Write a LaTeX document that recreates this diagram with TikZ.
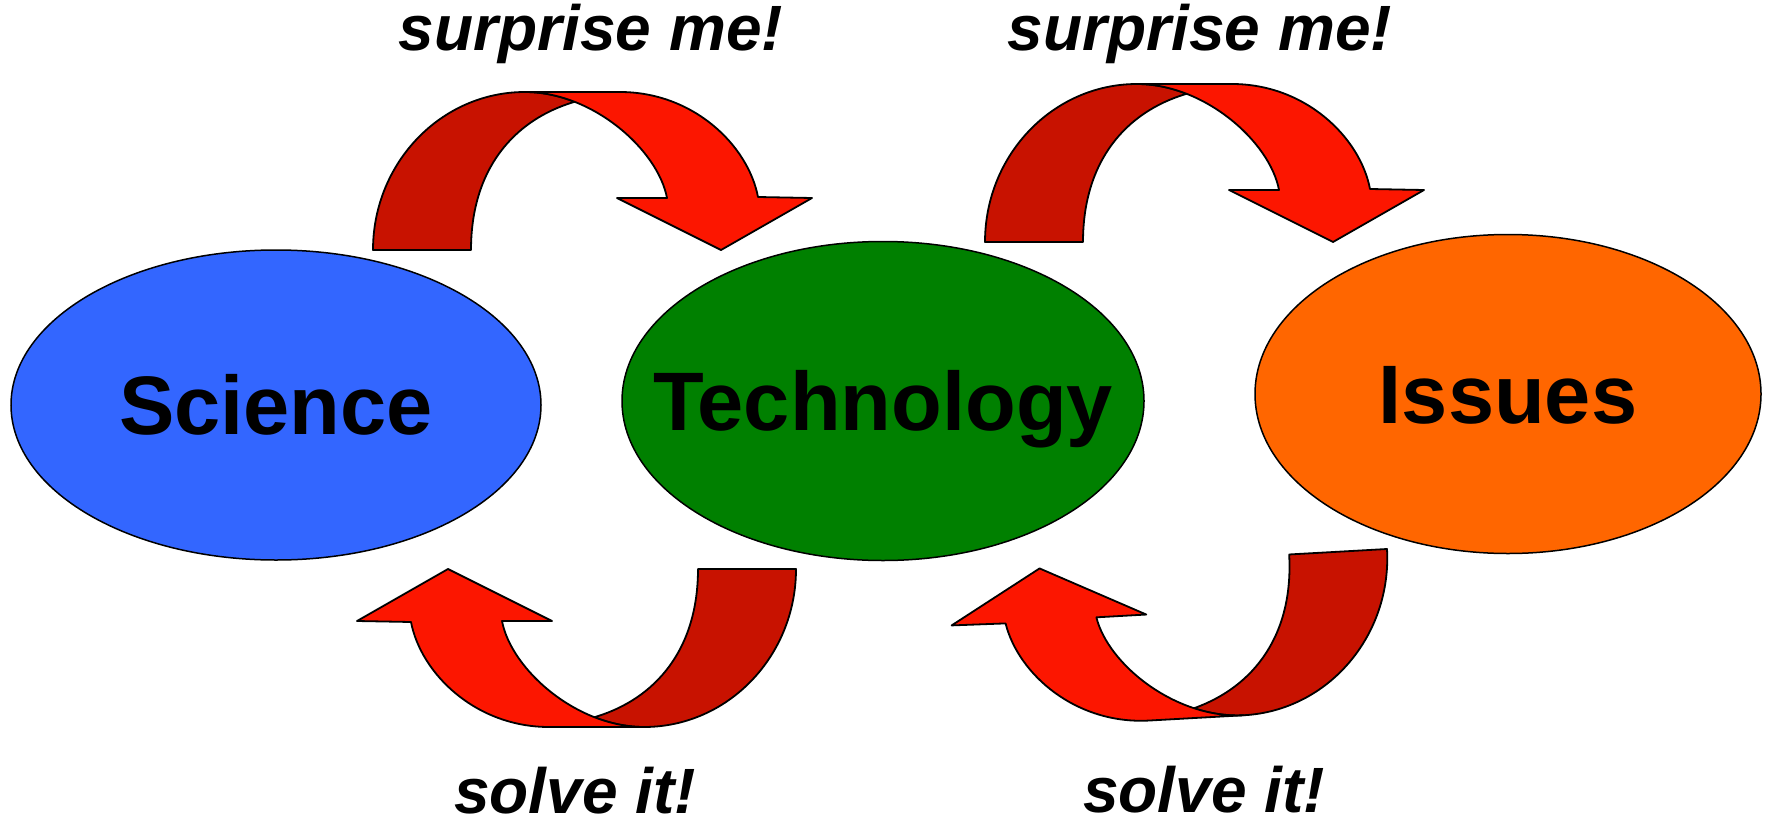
\documentclass[tikz,border=0pt]{standalone}
\usepackage{fontspec}
\setmainfont{Liberation Sans}
\usepackage{xcolor}
\usepackage{tikz}
\usetikzlibrary{shapes.geometric}

\definecolor{sciblue}{RGB}{51,102,255}
\definecolor{techgreen}{RGB}{0,128,0}
\definecolor{issorange}{RGB}{255,102,0}
\definecolor{frontred}{RGB}{252,22,0}
\definecolor{backred}{RGB}{200,18,0}

\begin{document}
\begin{tikzpicture}[x=1pt,y=-1pt,
  blob/.style={ellipse,draw=black,line width=1.5pt,inner sep=0pt},
  blobtext/.style={inner sep=0pt,font=\fontsize{83}{90}\selectfont\bfseries,
    text height=59pt,text depth=0pt},
  slogan/.style={anchor=base,inner sep=0pt,font=\fontsize{64}{70}\selectfont\bfseries\itshape},
  band/.style={draw=black,line width=1.8pt,line join=round},
  pics/looparrow/.style={code={
    % back part, from the tail up to the top
    \filldraw[band,fill=backred] (0,0) .. controls (0,-87) and (68,-158) .. (152,-158)
      .. controls (169,-158) and (185.8,-154.4) .. (201.6,-148.2)
      .. controls (140,-130) and (98,-80) .. (98,0) -- cycle;
    % front part with the head
    \filldraw[band,fill=frontred] (152,-158) -- (247,-158)
      .. controls (320,-158) and (375,-105) .. (385,-53)
      -- (439,-52) -- (348,0) -- (244,-52) -- (294,-52)
      .. controls (285,-100) and (220,-158) .. (152,-158) -- cycle;
  }}]

\useasboundingbox (0,0) rectangle (1771,824);

% Ellipses
\node[blob,fill=sciblue,minimum width=530pt,minimum height=310pt] (science) at (276,405) {};
\node[blob,fill=techgreen,minimum width=522pt,minimum height=319pt] (technology) at (883,401) {};
\node[blob,fill=issorange,minimum width=506pt,minimum height=319pt] (issues) at (1508,394) {};

\node[blobtext] (sciencetext) at (science) {Science};
\node[blobtext] (technologytext) at (technology) {Technology};
\node[blobtext] (issuestext) at (issues) {Issues};

% Arrows
\pic (sciup) at (373,250) {looparrow};
\pic (techup) at (985,242) {looparrow};
\pic[rotate=180] (techdown) at (796,569) {looparrow};
\pic[rotate=183.2] (issdown) at (1387,549) {looparrow};

% Labels
\node[slogan] (surprise1) at (591,51) {surprise me!};
\node[slogan] (surprise2) at (1200,51) {surprise me!};
\node[slogan] (solve1) at (575,813) {solve it!};
\node[slogan] (solve2) at (1204,812) {solve it!};

\end{tikzpicture}
\end{document}
